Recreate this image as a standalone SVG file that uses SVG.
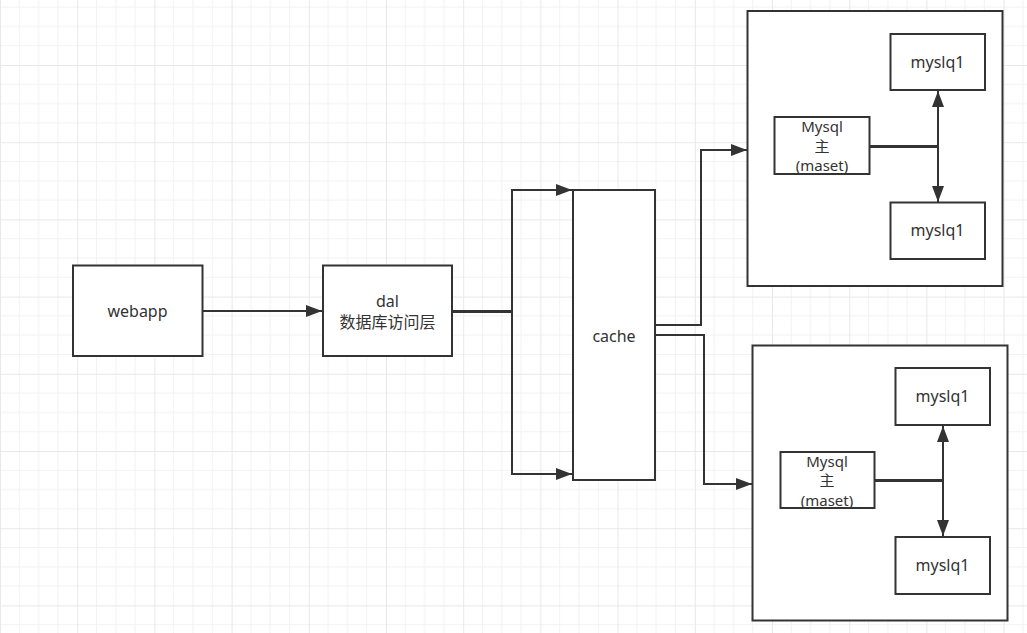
<svg xmlns="http://www.w3.org/2000/svg" width="1027" height="633" viewBox="0 0 1027 633">
<defs>
<pattern id="grid" patternUnits="userSpaceOnUse" x="0" y="-12.2" width="77.2" height="77.2">
<path d="M19.3 0V77.2M38.6 0V77.2M57.9 0V77.2M0 19.3H77.2M0 38.6H77.2M0 57.9H77.2" stroke="#f2f2f2" stroke-width="1" fill="none"/>
<path d="M0.5 0V77.2M0 0.5H77.2" stroke="#e8e8e8" stroke-width="1" fill="none"/>
</pattern>
<marker id="arr" markerUnits="userSpaceOnUse" markerWidth="16" markerHeight="12" refX="16" refY="6" orient="auto">
<path d="M0,0 L16,6 L0,12 Z" fill="#333"/>
</marker>
<style>
.box{fill:#fff;stroke:#333;stroke-width:2}
.t{font-family:"Noto Sans","Noto Sans CJK SC",sans-serif;font-size:16px;fill:#333;text-anchor:middle}
.m{font-size:15px}
.e{fill:none;stroke:#333;stroke-width:2}
</style>
</defs>
<rect width="1027" height="633" fill="#fff"/>
<rect width="1027" height="633" fill="url(#grid)"/>

<g id="group1"><rect class="box" x="747.5" y="11" width="255" height="275"/></g>
<g id="group2"><rect class="box" x="752.5" y="345.5" width="255" height="275"/></g>

<g id="connectors">
<polyline class="e" points="202,311 322,311" marker-end="url(#arr)"/>
<polyline class="e" points="452,311 512,311 512,190 572,190" marker-end="url(#arr)"/>
<polyline class="e" points="452,312 512,312 512,474 572,474" marker-end="url(#arr)"/>
<polyline class="e" points="655,325 701,325 701,150 747,150" marker-end="url(#arr)"/>
<polyline class="e" points="655,335 704,335 704,484 752,484" marker-end="url(#arr)"/>
<polyline class="e" points="869,146 938,146 938,91" marker-end="url(#arr)"/>
<polyline class="e" points="869,147 938,147 938,202" marker-end="url(#arr)"/>
<polyline class="e" points="874,480 943,480 943,426" marker-end="url(#arr)"/>
<polyline class="e" points="874,481 943,481 943,536" marker-end="url(#arr)"/>
</g>

<g id="webapp"><rect class="box" x="73" y="265.5" width="129.5" height="90.5"/><text class="t" x="137.5" y="317">webapp</text></g>
<g id="dal"><rect class="box" x="323" y="265.5" width="129" height="90.5"/><text class="t" x="387.5" y="307">dal</text><text class="t" x="387.5" y="328">数据库访问层</text></g>
<g id="cache"><rect class="box" x="573" y="190" width="82" height="290"/><text class="t" x="614" y="342">cache</text></g>

<g id="master1"><rect class="box" x="774.5" y="117" width="95" height="57"/><text class="t m" x="822" y="132">Mysql</text><text class="t m" x="822" y="152">主</text><text class="t m" x="822" y="171">(maset)</text></g>
<g id="slave1a"><rect class="box" x="890.5" y="34" width="94.5" height="56"/><text class="t" x="937.5" y="68">myslq1</text></g>
<g id="slave1b"><rect class="box" x="890.5" y="202.5" width="94.5" height="56.5"/><text class="t" x="937.5" y="236">myslq1</text></g>

<g id="master2"><rect class="box" x="780.5" y="452" width="94" height="56"/><text class="t m" x="827" y="467">Mysql</text><text class="t m" x="827" y="486">主</text><text class="t m" x="827" y="506">(maset)</text></g>
<g id="slave2a"><rect class="box" x="895.5" y="368" width="94.5" height="57"/><text class="t" x="942.5" y="402">myslq1</text></g>
<g id="slave2b"><rect class="box" x="895.5" y="537" width="94.5" height="57"/><text class="t" x="942.5" y="571">myslq1</text></g>
</svg>
